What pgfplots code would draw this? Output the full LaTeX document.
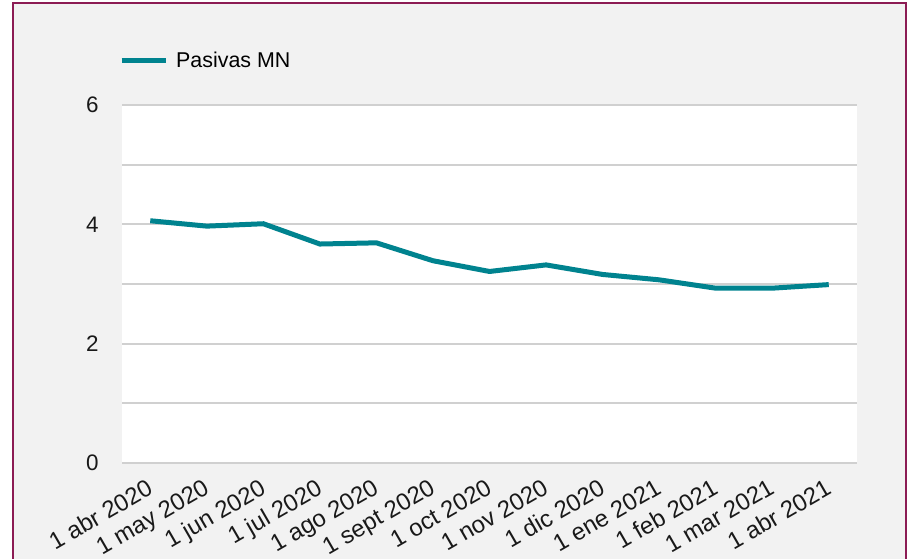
\documentclass[border=0pt]{standalone}
\usepackage{fontspec}
\setmainfont{Liberation Sans}
\usepackage{pgfplots}
\pgfplotsset{compat=1.18}
\definecolor{teal1}{RGB}{0,131,143}
\definecolor{maroon1}{RGB}{140,28,84}
\definecolor{bg}{RGB}{242,242,242}
\definecolor{gridc}{RGB}{208,208,208}
\begin{document}
\begin{tikzpicture}
\useasboundingbox (0bp,0bp) rectangle (909bp,559bp);
\fill[white] (0bp,0bp) rectangle (909bp,559bp);
\filldraw[fill=bg, draw=maroon1, line width=2bp] (13bp,-5bp) rectangle (906bp,556bp);
\begin{axis}[
  scale only axis,
  width=735bp, height=358bp,
  at={(122bp,96bp)}, anchor=south west,
  xmin=-0.5, xmax=12.5, ymin=0, ymax=6,
  axis background/.style={fill=white},
  axis line style={draw=none},
  major tick length=0pt, minor tick length=0pt,
  xtick={0,...,12},
  xticklabels={1 abr 2020,1 may 2020,1 jun 2020,1 jul 2020,1 ago 2020,1 sept 2020,1 oct 2020,1 nov 2020,1 dic 2020,1 ene 2021,1 feb 2021,1 mar 2021,1 abr 2021},
  ytick={2,4,6}, minor ytick={1,3,5},
  ymajorgrids, yminorgrids,
  major grid style={gridc, line width=2bp},
  minor grid style={gridc, line width=2bp},
  extra y ticks={0},
  extra y tick style={grid style={black, line width=3bp}},
  /pgf/number format/assume math mode=true,
  yticklabel style={xshift=-20bp, font=\fontsize{22.5}{26}\selectfont, text=black!90},
  xticklabel style={font=\fontsize{24}{28}\selectfont, text=black!90, rotate=30, anchor=north east, inner sep=0pt, yshift=-10.5bp, xshift=-11.5bp},
  legend style={draw=none, fill=none, at={(axis description cs:0,1)}, anchor=west, yshift=45bp, xshift=-3bp, font=\fontsize{21.5}{25}\selectfont, inner xsep=0pt, inner ysep=0pt, /tikz/every odd column/.append style={column sep=6bp}},
  legend image code/.code={\draw[#1, line width=5bp] (0bp,0bp) -- (44bp,0bp);},
  legend cell align=left,
]
\addplot[teal1, line width=5bp] coordinates {
(0,4.06) (1,3.97) (2,4.01) (3,3.67) (4,3.69) (5,3.39) (6,3.21) (7,3.32) (8,3.16) (9,3.07) (10,2.93) (11,2.93) (12,2.99)};
\addlegendentry{Pasivas MN}
\end{axis}
\end{tikzpicture}
\end{document}
